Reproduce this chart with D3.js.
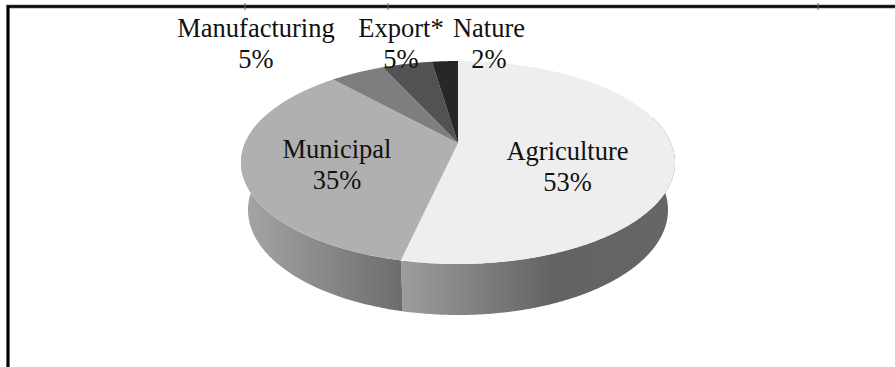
<!DOCTYPE html>
<html>
<head>
<meta charset="utf-8">
<script src="https://cdn.jsdelivr.net/npm/d3@7"></script>
<style>
  html, body { margin: 0; padding: 0; background: #fff; }
  svg { display: block; }
  text { font-family: "Liberation Serif", serif; fill: #111; }
</style>
</head>
<body>
<svg id="chart" width="895" height="367"></svg>
<script>
// valores, en sentido horario desde arriba
const categories = ['Agriculture', 'Municipal', 'Manufacturing', 'Export*', 'Nature'];
const shares = [53.4, 34.6, 5, 4.6, 2.4];
const topColors = ['#eeeeee', '#b0b0b0', '#7e7e7e', '#525252', '#272727'];

const W = 895, H = 367;
const svg = d3.select('#chart');

// elipse superior y elipse de la base (la base es algo menor por la perspectiva)
const TOP = { cx: 458, cy: 162.5, rx: 217, ry: 101.5 };
const BASE = { cx: 458, cy: 210, rx: 210, ry: 105 };
const PERSP = 0.8;   // comprime los angulos, y sube el vertice sobre el centro

// angulo real -> parametro sobre la elipse
function warp(a) { return 2 * Math.atan2(PERSP * Math.sin(a / 2), Math.cos(a / 2)); }
function onEllipse(e, a) {
  const t = warp(a);
  return [e.cx + e.rx * Math.sin(t), e.cy - e.ry * Math.cos(t)];
}
function sample(a0, a1) {
  const n = Math.max(2, Math.ceil(Math.abs(a1 - a0) / 0.01));
  return d3.range(n + 1).map(i => a0 + (a1 - a0) * i / n);
}
const line = d3.line();

const arcs = d3.pie().sort(null)(shares);
const APEX = [458, 143];

// degradados del costado
const defs = svg.append('defs');
function sideGradient(id, x1, x2, stops) {
  const g = defs.append('linearGradient').attr('id', id)
    .attr('gradientUnits', 'userSpaceOnUse')
    .attr('x1', x1).attr('x2', x2).attr('y1', 0).attr('y2', 0);
  stops.forEach(s => g.append('stop').attr('offset', s[0]).attr('stop-color', s[1]));
}
sideGradient('side0', 404, 675, [[0, '#9c9c9c'], [0.55, '#636363'], [1, '#666666']]);
sideGradient('side1', 241, 404, [[0, '#a6a6a6'], [1, '#6c6c6c']]);

// costado: solo agricultura y municipal dan al frente
const gSide = svg.append('g');
arcs.slice(0, 2).forEach((d, i) => {
  const a0 = Math.max(d.startAngle, Math.PI * 0.42);
  const a1 = Math.min(d.endAngle, Math.PI * 1.58);
  const angles = sample(a0, a1);
  const pts = angles.map(a => onEllipse(TOP, a))
    .concat(angles.slice().reverse().map(a => onEllipse(BASE, a)));
  gSide.append('path').attr('d', line(pts) + 'Z').attr('fill', `url(#side${i})`);
});

// cara superior
svg.append('g').selectAll('path').data(arcs).join('path')
  .attr('d', d => line([APEX].concat(sample(d.startAngle, d.endAngle).map(a => onEllipse(TOP, a)))) + 'Z')
  .attr('fill', (d, i) => topColors[i]);

// marco: solo arriba y a la izquierda
const gFrame = svg.append('g').attr('fill', 'none');
gFrame.append('path').attr('d', 'M8,367V6.5H895').attr('stroke', '#999').attr('stroke-width', 4);
gFrame.append('path').attr('d', 'M8,367V6.5H895').attr('stroke', '#000').attr('stroke-width', 2.6);
// rayitas del original sobre la linea de arriba
const frameTicks = [245, 388, 818];
gFrame.selectAll('line').data(frameTicks).join('line')
  .attr('x1', d => d).attr('x2', d => d).attr('y1', 3).attr('y2', 10)
  .attr('stroke', '#666').attr('stroke-width', 1);

// etiquetas
const labelX = [567.5, 337, 256, 401, 489];
const labelY = [160, 158, 37, 37, 37];
const LINE_H = 31;
const gLabels = svg.append('g').attr('text-anchor', 'middle').style('font-size', '26.5px');
categories.forEach((c, i) => {
  gLabels.append('text').attr('x', labelX[i]).attr('y', labelY[i]).text(c);
  gLabels.append('text').attr('x', labelX[i]).attr('y', labelY[i] + LINE_H)
    .text(Math.round(shares[i]) + '%');
});
</script>
</body>
</html>
